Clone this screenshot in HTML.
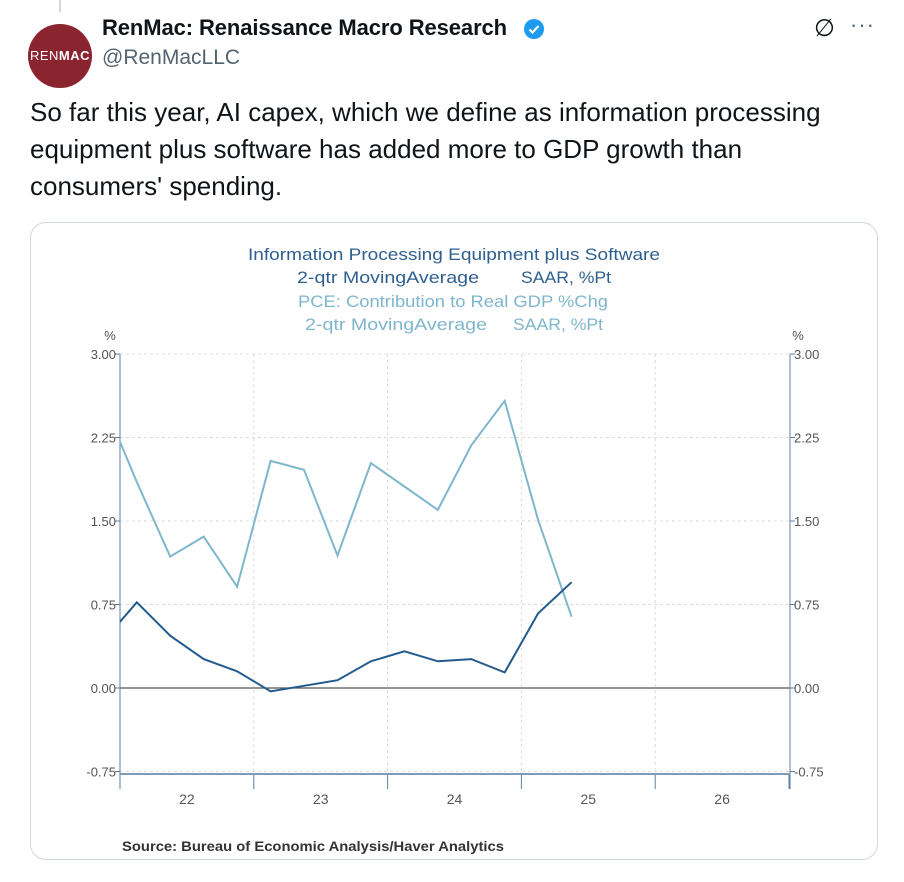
<!DOCTYPE html>
<html><head><meta charset="utf-8">
<style>
body{margin:0;width:904px;height:882px;background:#fff;font-family:"Liberation Sans",sans-serif;position:relative;overflow:hidden}
.abs{position:absolute}
</style></head><body>
<div class="abs" style="left:59px;top:0;width:2px;height:12px;background:#cfd9de"></div>
<div class="abs" style="left:28px;top:24px;width:64px;height:64px;border-radius:50%;background:#8a2530;color:#fff;font-size:13px;text-align:center;line-height:64px;letter-spacing:0.5px">REN<b>MAC</b></div>
<div class="abs" style="left:102px;top:15px;font-size:22px;font-weight:bold;color:#0f1419;letter-spacing:-0.1px">RenMac: Renaissance Macro Research</div>
<svg class="abs" style="left:523px;top:18px" width="22" height="22" viewBox="0 0 22 22"><circle cx="11" cy="11" r="10" fill="#1d9bf0"/><path d="M6.5 11.5l3 3 6-6.5" stroke="#fff" stroke-width="2.2" fill="none"/></svg>
<div class="abs" style="left:102px;top:46px;font-size:21px;color:#536471">@RenMacLLC</div>
<div class="abs" style="left:814px;top:14px;font-size:24px;color:#0f1419">∅</div>
<div class="abs" style="left:850px;top:12px;font-size:22px;color:#536471;letter-spacing:1px">···</div>
<div class="abs" style="left:30px;top:94px;width:840px;font-size:26px;line-height:37px;color:#0f1419">So far this year, AI capex, which we define as information processing equipment plus software has added more to GDP growth than consumers' spending.</div>
<div class="abs" style="left:30px;top:222px;width:846px;height:636px;border:1px solid #cfd9de;border-radius:16px"></div>
<svg class="abs" style="left:0;top:0" width="904" height="882" font-family="Liberation Sans, sans-serif">
<g id="titles" font-size="17">
<text x="248" y="260" textLength="412" lengthAdjust="spacingAndGlyphs" fill="#2e5f8f">Information Processing Equipment plus Software</text>
<text x="297" y="283" textLength="182" lengthAdjust="spacingAndGlyphs" fill="#2e5f8f">2-qtr MovingAverage</text>
<text x="521" y="283" textLength="90" lengthAdjust="spacingAndGlyphs" fill="#2e5f8f">SAAR, %Pt</text>
<text x="298" y="307" textLength="310" lengthAdjust="spacingAndGlyphs" fill="#7fb6cc">PCE: Contribution to Real GDP %Chg</text>
<text x="305" y="330" textLength="182" lengthAdjust="spacingAndGlyphs" fill="#7fb6cc">2-qtr MovingAverage</text>
<text x="513" y="330" textLength="90" lengthAdjust="spacingAndGlyphs" fill="#7fb6cc">SAAR, %Pt</text>
</g>
<g id="axes"></g>
<g id="lines"></g>
<text x="122" y="851" font-size="13.5" font-weight="bold" fill="#333" textLength="382" lengthAdjust="spacingAndGlyphs">Source:  Bureau of Economic Analysis/Haver Analytics</text>
</svg>
<script>
const yTicks=[3.00,2.25,1.50,0.75,0.00,-0.75];
const yearLabels=["22","23","24","25","26"];
const quarters=["21Q4","22Q1","22Q2","22Q3","22Q4","23Q1","23Q2","23Q3","23Q4","24Q1","24Q2","24Q3","24Q4","25Q1","25Q2"];
const infoProc=[0.42,0.77,0.47,0.26,0.15,-0.03,0.02,0.07,0.24,0.33,0.24,0.26,0.14,0.67,0.95];
const pce=[2.57,1.85,1.18,1.36,0.91,2.04,1.96,1.19,2.02,1.81,1.60,2.18,2.58,1.51,0.64];
const L=120,R=790,T=354,B=774;
const yScale=v=>688-v*111.33;
const yearW=133.8;
const xScale=i=>L-16.7+i*33.45;
const NS="http://www.w3.org/2000/svg";
function mk(tag,attrs,parent){const e=document.createElementNS(NS,tag);for(const k in attrs)e.setAttribute(k,attrs[k]);parent.appendChild(e);return e;}
const ax=document.getElementById('axes');
yTicks.forEach(v=>{
 const y=yScale(v);
 const g=mk('line',{x1:L,x2:R,y1:y,y2:y,stroke:v===0?'#555':'#dcdcdc','stroke-dasharray':v===0?'':'3,3','stroke-width':v===0?1.3:1},ax);
 
 
 mk('line',{x1:L-5,x2:L,y1:y,y2:y,stroke:'#5b7fa3'},ax);
 mk('line',{x1:R,x2:R+5,y1:y,y2:y,stroke:'#5b7fa3'},ax);
 const t1=mk('text',{x:L-4,y:y+5,'text-anchor':'end','font-size':13,fill:'#555'},ax);t1.textContent=v.toFixed(2);
 
 
 const t2=mk('text',{x:R+4,y:y+5,'font-size':13,fill:'#555'},ax);t2.textContent=v.toFixed(2);
 
 
});
for(let k=1;k<yearLabels.length;k++){const x=L+k*yearW;mk('line',{x1:x,x2:x,y1:T,y2:B,stroke:'#dcdcdc','stroke-dasharray':'3,3'},ax);}
for(let k=0;k<=yearLabels.length;k++){const x=L+k*yearW;if(x<=R+1)mk('line',{x1:x,x2:x,y1:B,y2:B+15,stroke:'#5b7fa3'},ax);}
yearLabels.forEach((s,k)=>{const t=mk('text',{x:L+(k+0.5)*yearW,y:B+30,'text-anchor':'middle','font-size':14,fill:'#555'},ax);t.textContent=s;
 
 });
mk('line',{x1:L,x2:L,y1:T,y2:B+15,stroke:'#5b7fa3'},ax);
mk('line',{x1:R,x2:R,y1:T,y2:B+15,stroke:'#5b7fa3'},ax);
mk('line',{x1:L,x2:R,y1:B,y2:B,stroke:'#7f9bb8','stroke-width':2},ax);
const p1=mk('text',{x:L-10,y:T-14,'text-anchor':'middle','font-size':13,fill:'#555'},ax);p1.textContent='%';
const p2=mk('text',{x:R+8,y:T-14,'text-anchor':'middle','font-size':13,fill:'#555'},ax);p2.textContent='%';
const lg=document.getElementById('lines');
mk('clipPath',{id:'cp'},lg);
mk('rect',{x:L,y:T-40,width:R-L,height:B-T+40},document.getElementById('cp'));
function series(arr,color,name){const d=arr.map((v,i)=>(i?'L':'M')+xScale(i).toFixed(1)+' '+yScale(v).toFixed(1)).join(' ');
 const p=mk('path',{d:d,fill:'none',stroke:color,'stroke-width':2,'clip-path':'url(#cp)'},lg);
 
 }
series(pce,'#7fb6cc','pce-line');
series(infoProc,'#235a8c','info-processing-line');
</script>
</body></html>
